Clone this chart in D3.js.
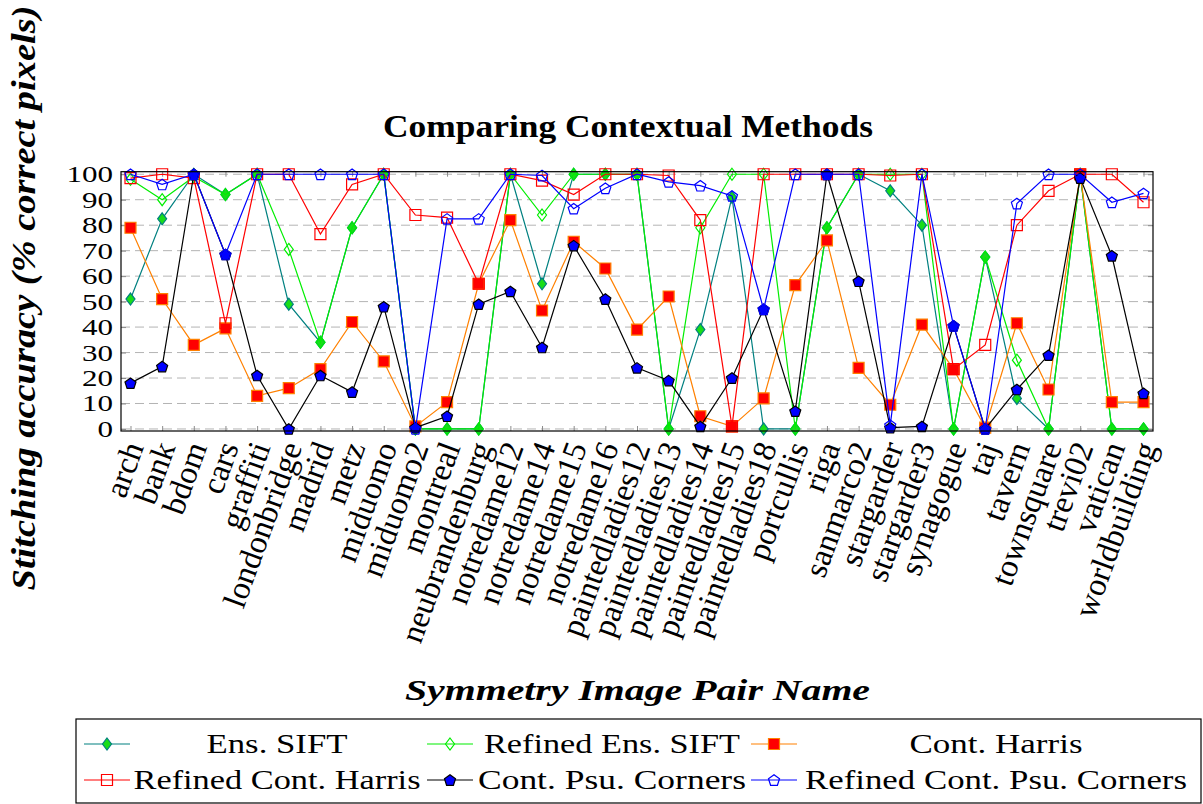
<!DOCTYPE html>
<html>
<head>
<meta charset="utf-8">
<script src="https://cdn.jsdelivr.net/npm/d3@7"></script>
<style>
  body { margin: 0; background: #fff; }
</style>
</head>
<body>
<svg id="canvas"></svg>
<script>
let categories = ['arch', 'bank', 'bdom', 'cars', 'graffiti', 'londonbridge', 'madrid', 'metz',
    'miduomo', 'miduomo2', 'montreal', 'neubrandenburg', 'notredame12', 'notredame14', 'notredame15',
    'notredame16', 'paintedladies12', 'paintedladies13', 'paintedladies14', 'paintedladies15',
    'paintedladies18', 'portcullis', 'riga', 'sanmarco2', 'stargarder', 'stargarder3', 'synagogue',
    'taj', 'tavern', 'townsquare', 'trevi02', 'vatican', 'worldbuilding']

let ensSift       = [51, 82.5, 100, 92, 100, 49, 34, 79, 100, 0, 0, 0, 100, 57, 100, 100, 100, 0, 39, 91, 0, 0, 79, 100, 93.5, 80, 0, 67.5, 12, 0, 100, 0, 0]
let refEnsSift    = [98, 90, 99, 92, 100, 70.5, 34, 79, 100, 0, 0, 0, 100, 84, 100, 100, 100, 0, 79, 100, 100, 0, 79, 100, 100, 100, 0, 67.5, 27, 0, 100, 0, 0]
let contHarris    = [79, 51, 33, 39.5, 13, 16, 23.5, 42, 26.5, 1, 10.5, 57, 82, 46.5, 73.5, 63, 39, 52, 5, 1, 12, 56.5, 74, 24, 9.5, 41, 23.5, 0.5, 41.5, 15.5, 100, 10.5, 10.5]
let refContHarris = [98.5, 100, 98.5, 41.5, 100, 100, 76.5, 96, 100, 84, 83, 57, 100, 97.5, 92, 100, 100, 99.5, 82, 1, 100, 100, 100, 100, 99.5, 100, 23.5, 33, 80, 93.5, 100, 100, 89]
let contPsu       = [18, 24.5, 100, 68.5, 21, 0, 21, 14.5, 48, 0.5, 5, 49, 54, 32, 72, 51, 24, 19, 1, 20, 47, 7, 100, 58, 0.5, 1, 40.5, 0, 15.5, 29, 98.5, 68, 14]
let refContPsu    = [100, 96, 100, 68.5, 100, 100, 100, 100, 100, 0, 82.5, 82.5, 100, 99.5, 86.5, 94.5, 100, 97, 95.5, 91.5, 47, 100, 100, 100, 1.5, 100, 40.5, 0, 88.5, 100, 100, 89, 92.5]

let seriesNames = ['Ens. SIFT', 'Refined Ens. SIFT', 'Cont. Harris', 'Refined Cont. Harris', 'Cont. Psu. Corners', 'Refined Cont. Psu. Corners']
let yTicks = [0, 10, 20, 30, 40, 50, 60, 70, 80, 90, 100]

let width = 1203
let height = 804
let plotLeft = 121
let plotRight = 1153
let plotTop = 171.7
let plotBottom = 431
let serif = "'Liberation Serif', 'DejaVu Serif', 'Times New Roman', serif"

let svg = d3.select('#canvas').attr('width', width).attr('height', height)

let series = [
    { name: seriesNames[0], values: ensSift,       line: '#008080', mark: 'diamond',  fill: '#19dd19', stroke: '#008080' },
    { name: seriesNames[1], values: refEnsSift,    line: '#00ee00', mark: 'diamond',  fill: 'none',    stroke: '#00ee00' },
    { name: seriesNames[2], values: contHarris,    line: '#ff8000', mark: 'square',   fill: '#ff0000', stroke: '#ff8000' },
    { name: seriesNames[3], values: refContHarris, line: '#ff0000', mark: 'square',   fill: 'none',    stroke: '#ff0000' },
    { name: seriesNames[4], values: contPsu,       line: '#000000', mark: 'pentagon', fill: '#0000ff', stroke: '#000000' },
    { name: seriesNames[5], values: refContPsu,    line: '#0000ff', mark: 'pentagon', fill: 'none',    stroke: '#0000ff' }
]

let xScale = d3.scaleLinear().domain([-0.3, categories.length - 1 + 0.3]).range([plotLeft, plotRight])
let yScale = d3.scaleLinear().domain([-0.8, 101]).range([plotBottom, plotTop])

// marker outlines, centred on 0,0
let markPath = (kind) => {
    if (kind === 'square') {
        return 'M-5.5,-5.5H5.5V5.5H-5.5Z'
    } else if (kind === 'diamond') {
        return 'M0,-6L4.5,0L0,6L-4.5,0Z'
    }
    let pts = d3.range(5).map((k) => {
        let a = -Math.PI / 2 + k * 2 * Math.PI / 5
        return [5.8 * Math.cos(a), 5.8 * Math.sin(a) + 0.6]
    })
    return 'M' + pts.map((p) => p.join(',')).join('L') + 'Z'
}

// grid
svg.append('g')
    .selectAll('line')
    .data(yTicks)
    .enter()
    .append('line')
    .attr('x1', plotLeft)
    .attr('x2', plotRight)
    .attr('y1', (d) => yScale(d))
    .attr('y2', (d) => yScale(d))
    .attr('stroke', '#b4b4b4')
    .attr('stroke-width', 1)
    .attr('stroke-dasharray', '9,5')

// axes with ticks on both sides
let xAxisBottom = d3.axisBottom(xScale).tickValues(d3.range(categories.length)).tickSize(-5).tickFormat('')
let xAxisTop = d3.axisTop(xScale).tickValues(d3.range(categories.length)).tickSize(-5).tickFormat('')
let yAxisLeft = d3.axisLeft(yScale).tickValues(yTicks).tickSize(-5).tickFormat('')
let yAxisRight = d3.axisRight(yScale).tickValues(yTicks).tickSize(-5).tickFormat('')

let axes = [
    [xAxisBottom, 'translate(0,' + plotBottom + ')'],
    [xAxisTop, 'translate(0,' + plotTop + ')'],
    [yAxisLeft, 'translate(' + plotLeft + ',0)'],
    [yAxisRight, 'translate(' + plotRight + ',0)']
]
axes.forEach((a) => {
    let g = svg.append('g').attr('transform', a[1]).call(a[0])
    g.select('.domain').remove()
    g.selectAll('.tick line').attr('stroke', '#8c8c8c')
    g.selectAll('.tick text').remove()
})

// y tick labels
svg.append('g')
    .selectAll('text')
    .data(yTicks)
    .enter()
    .append('text')
    .attr('x', 113)
    .attr('y', (d) => yScale(d) + 8)
    .attr('text-anchor', 'end')
    .attr('textLength', (d) => String(d).length * 15.5)
    .attr('lengthAdjust', 'spacingAndGlyphs')
    .style('font-family', serif)
    .style('font-size', '24px')
    .text((d) => d)

// x tick labels
svg.append('g')
    .selectAll('text')
    .data(categories)
    .enter()
    .append('text')
    .attr('text-anchor', 'end')
    .attr('dy', '0.35em')
    .attr('transform', (d, i) => 'translate(' + (xScale(i) + 3) + ',443) rotate(-70)')
    .style('font-family', serif)
    .style('font-size', '32.5px')
    .text((d) => d)

// lines and markers
let lineGen = d3.line()
    .x((d, i) => xScale(i))
    .y((d) => yScale(d))

let plotG = svg.append('g')
series.forEach((s) => {
    let g = plotG.append('g')
    g.append('path')
        .datum(s.values)
        .attr('d', lineGen)
        .attr('fill', 'none')
        .attr('stroke', s.line)
        .attr('stroke-width', 1.2)
    g.selectAll('path.mark')
        .data(s.values)
        .enter()
        .append('path')
        .attr('class', 'mark')
        .attr('d', markPath(s.mark))
        .attr('transform', (d, i) => 'translate(' + xScale(i) + ',' + yScale(d) + ')')
        .attr('fill', s.fill)
        .attr('stroke', s.stroke)
        .attr('stroke-width', 1.2)
})

// frame
svg.append('rect')
    .attr('x', plotLeft)
    .attr('y', plotTop)
    .attr('width', plotRight - plotLeft)
    .attr('height', plotBottom - plotTop)
    .attr('fill', 'none')
    .attr('stroke', '#000')
    .attr('stroke-width', 1.2)

// title and axis labels
svg.append('text')
    .attr('x', 628)
    .attr('y', 137)
    .attr('text-anchor', 'middle')
    .attr('textLength', 490)
    .attr('lengthAdjust', 'spacingAndGlyphs')
    .style('font-family', serif)
    .style('font-size', '32px')
    .style('font-weight', 'bold')
    .text('Comparing Contextual Methods')

svg.append('text')
    .attr('x', 637.5)
    .attr('y', 700)
    .attr('text-anchor', 'middle')
    .attr('textLength', 465)
    .attr('lengthAdjust', 'spacingAndGlyphs')
    .style('font-family', serif)
    .style('font-size', '30px')
    .style('font-weight', 'bold')
    .style('font-style', 'italic')
    .text('Symmetry Image Pair Name')

svg.append('text')
    .attr('transform', 'translate(35,298) rotate(-90)')
    .attr('text-anchor', 'middle')
    .attr('textLength', 585)
    .attr('lengthAdjust', 'spacingAndGlyphs')
    .style('font-family', serif)
    .style('font-size', '33px')
    .style('font-weight', 'bold')
    .style('font-style', 'italic')
    .text('Stitching accuracy (% correct pixels)')

// legend
let legendCols = [84, 427, 751]
let legendTextCenters = [277, 612, 996]
let legendRows = [744, 780]
let legendTextWidths = [141, 256, 173, 287, 268, 382]

svg.append('rect')
    .attr('x', 76)
    .attr('y', 719)
    .attr('width', 1125)
    .attr('height', 84)
    .attr('fill', 'none')
    .attr('stroke', '#000')
    .attr('stroke-width', 1.2)

series.forEach((s, i) => {
    let col = i % 3
    let row = Math.floor(i / 3)
    let y = legendRows[row]
    let x0 = legendCols[col]
    let g = svg.append('g')
    g.append('line')
        .attr('x1', x0)
        .attr('x2', x0 + 46)
        .attr('y1', y)
        .attr('y2', y)
        .attr('stroke', s.line)
        .attr('stroke-width', 1.2)
    g.append('path')
        .attr('d', markPath(s.mark))
        .attr('transform', 'translate(' + (x0 + 23) + ',' + y + ')')
        .attr('fill', s.fill)
        .attr('stroke', s.stroke)
        .attr('stroke-width', 1.2)
    g.append('text')
        .attr('x', legendTextCenters[col])
        .attr('y', y + 9)
        .attr('text-anchor', 'middle')
        .attr('textLength', legendTextWidths[i])
        .attr('lengthAdjust', 'spacingAndGlyphs')
        .style('font-family', serif)
        .style('font-size', '27px')
        .text(s.name)
})
</script>
</body>
</html>
